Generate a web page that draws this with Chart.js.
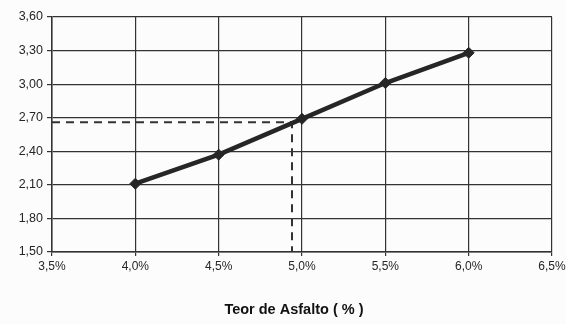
<!DOCTYPE html>
<html>
<head>
<meta charset="utf-8">
<script src="https://cdn.jsdelivr.net/npm/chart.js@4/dist/chart.umd.min.js"></script>
<style>
  html, body { margin: 0; padding: 0; background: #fcfcfc; }
  #wrap { width: 566px; height: 324px; position: relative; }
</style>
</head>
<body>
<div id="wrap"><canvas id="grafico" width="566" height="324"></canvas></div>
<script>
// dados
const teor = [4.0, 4.5, 5.0, 5.5, 6.0];
const valores = [2.11, 2.37, 2.69, 3.01, 3.28];
// linha de referência tracejada
const refX = [3.5, 4.94, 4.94];
const refY = [2.66, 2.66, 1.50];

const xMin = 3.5, xMax = 6.5, xStep = 0.5;
const yMin = 1.5, yMax = 3.6, yStep = 0.3;

const ink = '#262626';

document.addEventListener('DOMContentLoaded', function() {
    const ctx = document.getElementById('grafico').getContext('2d');

    new Chart(ctx, {
        type: 'scatter',
        data: {
            datasets: [{
                label: 'curva',
                data: teor.map((t, i) => ({ x: t, y: valores[i] })),
                showLine: true,
                borderColor: ink,
                borderWidth: 4.5,
                pointStyle: 'rectRot',
                pointRadius: 5.5,
                pointBackgroundColor: ink,
                pointBorderColor: ink,
                pointBorderWidth: 1,
                order: 1
            }, {
                label: 'referencia',
                data: refX.map((x, i) => ({ x: x, y: refY[i] })),
                showLine: true,
                borderColor: '#333',
                borderWidth: 2,
                borderDash: [8, 6],
                pointRadius: 0,
                order: 2
            }]
        },
        options: {
            responsive: false,
            animation: false,
            layout: { padding: { top: 17, right: 14, left: 0, bottom: 0 } },
            plugins: {
                legend: { display: false },
                tooltip: { enabled: false }
            },
            scales: {
                x: {
                    type: 'linear',
                    min: xMin,
                    max: xMax,
                    ticks: {
                        stepSize: xStep,
                        autoSkip: false,
                        maxRotation: 0,
                        color: ink,
                        font: { family: 'Liberation Sans, Arial', size: 12 },
                        padding: 3,
                        callback: v => v.toFixed(1).replace('.', ',') + '%'
                    },
                    grid: { color: '#333', lineWidth: 1.2, tickLength: 4 },
                    border: { color: '#333', width: 1.5 },
                    title: {
                        display: true,
                        // espaços finais deslocam o título um pouco para a esquerda, como no original
                        text: 'Teor de Asfalto ( % )    ',
                        color: '#111',
                        font: { family: 'Liberation Sans, Arial', size: 14.5, weight: 'bold' },
                        padding: { top: 0, bottom: 5 }
                    },
                    afterFit: s => { s.height = 72; s.paddingRight = 0; s.paddingLeft = 0; }
                },
                y: {
                    type: 'linear',
                    min: yMin,
                    max: yMax,
                    ticks: {
                        stepSize: yStep,
                        autoSkip: false,
                        color: ink,
                        font: { family: 'Liberation Sans, Arial', size: 12.5 },
                        padding: 4,
                        callback: v => v.toFixed(2).replace('.', ',')
                    },
                    grid: { color: '#333', lineWidth: 1.2, tickLength: 5 },
                    border: { color: '#333', width: 1.5 },
                    afterFit: s => { s.width = 52; }
                }
            }
        }
    });
});
</script>
</body>
</html>
